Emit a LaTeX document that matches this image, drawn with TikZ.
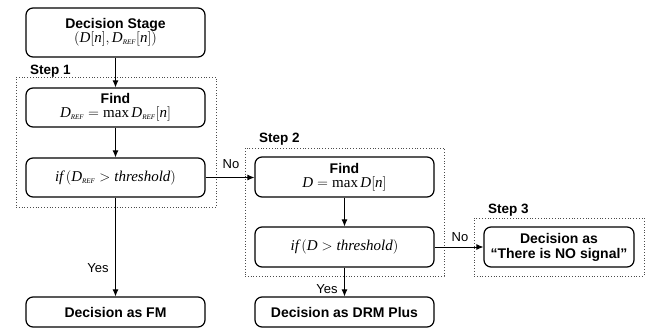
\documentclass[tikz,border=0pt]{standalone}
\usepackage{amsmath}
\usepackage{fontspec}
\setmainfont{Liberation Sans}
\newfontfamily\tms{Liberation Serif}
\usetikzlibrary{arrows.meta}
\newcommand{\mi}[1]{\mbox{\tms\itshape #1}}
\newcommand{\mup}[1]{\mbox{\tms #1}}
\newcommand{\Dref}{\mi{D}_{\mbox{\tms\itshape\fontsize{7}{7}\selectfont REF}}}
\newcommand{\pp}[1]{{\left(\vrule height 10.5pt depth 3.5pt width 0pt #1\right)}}
\newcommand{\bb}[1]{{\left[\vrule height 9.5pt depth 2.5pt width 0pt #1\right]}}
\tikzset{
  box/.style={draw, rounded corners=7pt, line width=1.2pt, minimum width=179pt,
    align=center, inner sep=0pt, font=\fontsize{14}{15}\selectfont\bfseries},
  grp/.style={draw=black!70, dotted, line width=0.8pt, inner sep=0pt},
  arr/.style={-{Latex[length=7pt,width=6pt]}, line width=0.9pt},
  steplbl/.style={font=\fontsize{13.5}{14}\selectfont\bfseries, anchor=west, inner sep=0pt},
  yn/.style={font=\fontsize{13}{14}\selectfont, inner sep=0pt}
}
\begin{document}
\begin{tikzpicture}[x=1pt,y=-1pt]
\useasboundingbox (0,0) rectangle (656,332);
% group frames
\node[grp, minimum width=200pt, minimum height=130pt] (s1) at (116,142) {};
\node[grp, minimum width=199pt, minimum height=128pt] (s2) at (344.5,212) {};
\node[grp, minimum width=170pt, minimum height=58pt] (s3) at (559,247) {};
\node[steplbl] (l1) at (30,71) {Step 1};
\node[steplbl] (l2) at (259,139) {Step 2};
\node[steplbl] (l3) at (488,210) {Step 3};
% boxes
\node[box, minimum height=49pt] (ds) at (115.5,32.5) {Decision Stage\\[-1pt]
  {\fontsize{15}{16}\selectfont\mdseries$\pp{\mi{D}\bb{\mi{n}},\Dref\bb{\mi{n}}}$}};
\node[box, minimum height=39pt] (f1) at (115.5,107.5) {Find\\[-1pt]
  {\fontsize{15}{16}\selectfont\mdseries$\Dref=\mup{max}\,\Dref\bb{\mi{n}}$}};
\node[box, minimum height=39pt, font=\fontsize{15}{16}\selectfont] (i1) at (115.5,177.5)
  {$\mi{if}\,\pp{\Dref>\mi{threshold}}$};
\node[box, minimum height=30pt] (fm) at (115.5,312) {Decision as FM};
\node[box, minimum height=40pt] (f2) at (344.5,177) {Find\\[-1pt]
  {\fontsize{15}{16}\selectfont\mdseries$\mi{D}=\mup{max}\,\mi{D}\bb{\mi{n}}$}};
\node[box, minimum height=40pt, font=\fontsize{15}{16}\selectfont] (i2) at (344.5,247)
  {$\mi{if}\,\pp{\mi{D}>\mi{threshold}}$};
\node[box, minimum height=30pt] (drm) at (344.5,312) {Decision as DRM Plus};
\node[box, minimum width=150pt, minimum height=40pt] (ns) at (559,247)
  {Decision as\\“There is NO signal”};
% connectors
\draw[arr] (ds) -- (f1);
\draw[arr] (f1) -- (i1);
\draw[arr] (i1) -- (fm);
\draw[arr] (i1.east) -- (f2.west |- i1.east);
\draw[arr] (f2) -- (i2);
\draw[arr] (i2) -- (drm);
\draw[arr] (i2.east) -- (ns.west);
% labels
\node[yn] (y1) at (98,268) {Yes};
\node[yn] (y2) at (327,289) {Yes};
\node[yn] (n1) at (231,164) {No};
\node[yn] (n2) at (460,237) {No};
\end{tikzpicture}
\end{document}
